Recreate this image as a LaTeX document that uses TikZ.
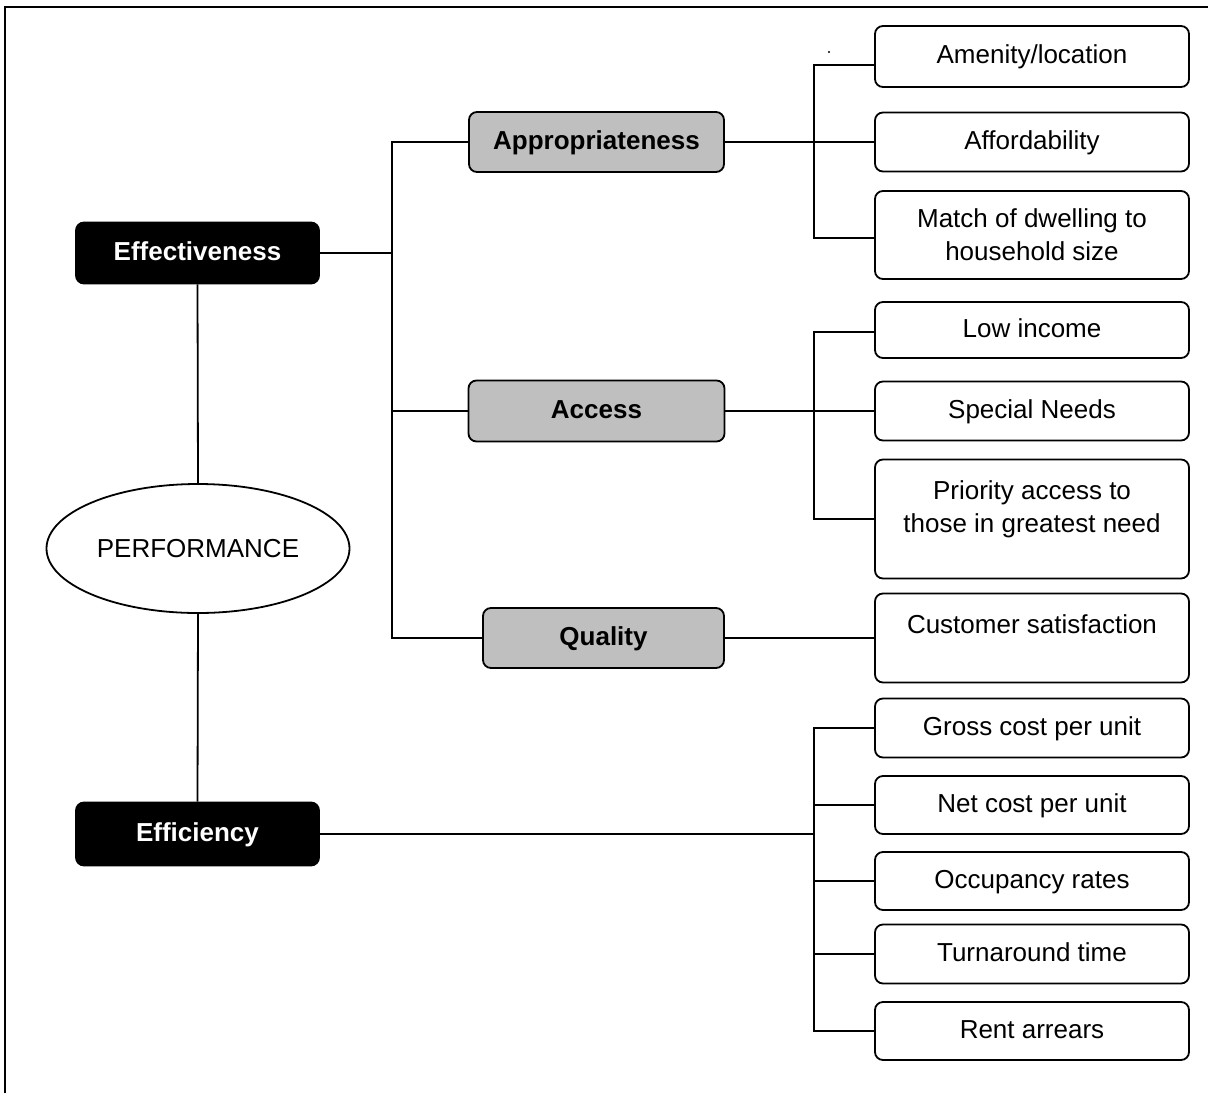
\documentclass[tikz,border=0pt]{standalone}
\usepackage{fontspec}
\setmainfont{Liberation Sans}
\usetikzlibrary{shapes.geometric}
\tikzset{
  every path/.style={line width=1.8pt},
  txt/.style={font=\fontsize{26}{33}\selectfont, align=center},
  one/.style={text height=19pt, text depth=5pt},
  leafbox/.style={draw, line width=1.8pt, rounded corners=8pt, minimum width=314pt, inner sep=0pt, txt},
  midbox/.style={draw, line width=1.8pt, rounded corners=8pt, fill=gray!50!white, inner sep=0pt, txt, one, font=\fontsize{26}{33}\selectfont\bfseries},
  topbox/.style={draw, line width=1.8pt, rounded corners=8pt, fill=black, text=white, inner sep=0pt, minimum width=243pt, txt, one, font=\fontsize{26}{33}\selectfont\bfseries},
  wire/.style={line width=1.8pt}
}
\begin{document}
\begin{tikzpicture}[x=1pt,y=-1pt]
\useasboundingbox (0,0) rectangle (1208,1093);
% frame
\draw[line width=1.5pt] (5,1093) -- (5,7) -- (1208,7);
% top level
\node[topbox, minimum height=61pt] (eff) at (197.5,253) {Effectiveness};
\node[topbox, minimum height=63pt] (effi) at (197.5,834) {Efficiency};
\node[draw, ellipse, line width=1.8pt, minimum width=303pt, minimum height=129pt, inner sep=0pt, txt] (perf) at (198,548.5) {PERFORMANCE};
% mid level
\node[midbox, minimum width=255pt, minimum height=60pt] (app) at (596.5,142) {Appropriateness};
\node[midbox, minimum width=256pt, minimum height=61pt] (acc) at (596.5,411) {Access};
\node[midbox, minimum width=241pt, minimum height=60pt] (qual) at (603.5,638) {Quality};
% leaves
\node[leafbox, one, minimum height=61pt] (amen) at (1032,56.5) {Amenity/location};
\node[leafbox, one, minimum height=59pt] (aff) at (1032,142) {Affordability};
\node[leafbox, minimum height=88pt] (match) at (1032,235) {Match of dwelling to\\household size};
\node[leafbox, one, minimum height=56pt] (low) at (1032,330) {Low income};
\node[leafbox, one, minimum height=59pt] (spec) at (1032,411) {Special Needs};
\node[leafbox, minimum height=119pt] (prio) at (1032,519) {};
\node[txt] (priotext) at (1032,509) {Priority access to\\those in greatest need};
\node[leafbox, minimum height=89pt] (cust) at (1032,638) {};
\node[txt, one] (custtext) at (1032,626) {Customer satisfaction};
\node[leafbox, one, minimum height=59pt] (gross) at (1032,728) {Gross cost per unit};
\node[leafbox, one, minimum height=58pt] (net) at (1032,805) {Net cost per unit};
\node[leafbox, one, minimum height=58pt] (occ) at (1032,881) {Occupancy rates};
\node[leafbox, one, minimum height=59pt] (turn) at (1032,954) {Turnaround time};
\node[leafbox, one, minimum height=58pt] (rent) at (1032,1031) {Rent arrears};
% small dot
\fill (829,52) circle (1.2pt);
% connectors: top level
\draw[wire] (eff.south) -- (perf.north);
\draw[wire] (perf.south) -- (effi.north);
\draw[wire] (eff.east) -- ([xshift=-76pt]eff.east -| app.west);
\draw[wire] (app.west) -- ++(-76,0) |- (qual.west);
\draw[wire] (acc.west) -- ++(-76,0);
% appropriateness
\draw[wire] (app.east) -- (aff.west);
\draw[wire] ([yshift=-8.5pt]amen.west) -- ++(-60,0) |- ([yshift=-3pt]match.west);
% access
\draw[wire] (acc.east) -- (spec.west);
\draw[wire] ([yshift=-2pt]low.west) -- ++(-60,0) |- (prio.west);
% quality
\draw[wire] (qual.east) -- (cust.west);
% efficiency
\draw[wire] (effi.east) -- ([xshift=-60pt]effi.east -| gross.west);
\draw[wire] (gross.west) -- ++(-60,0) |- (rent.west);
\draw[wire] (net.west) -- ++(-60,0);
\draw[wire] (occ.west) -- ++(-60,0);
\draw[wire] (turn.west) -- ++(-60,0);
\end{tikzpicture}
\end{document}
